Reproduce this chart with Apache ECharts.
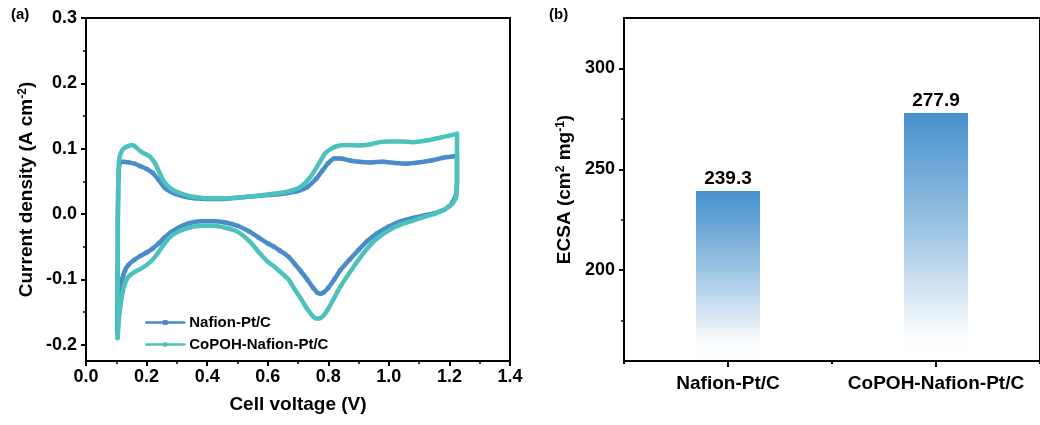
<!DOCTYPE html>
<html>
<head>
<meta charset="utf-8">
<script src="https://cdn.jsdelivr.net/npm/echarts@6/dist/echarts.min.js"></script>
<style>
  html, body { margin: 0; padding: 0; background: #fff; }
  #chart { width: 1040px; height: 425px; }
</style>
</head>
<body>
<div id="chart"></div>
<script>
// (a) Cyclic voltammetry: cell voltage (V) vs current density (A cm^-2)
const nafionVolt = [
  0.103, 0.103, 0.104, 0.104, 0.105, 0.105, 0.106, 0.107, 0.109, 0.112, 0.12, 0.14, 0.16, 0.18, 0.20, 0.22, 0.24, 0.26,
  0.28, 0.30, 0.33, 0.36, 0.40, 0.45, 0.50, 0.55, 0.60, 0.65, 0.70, 0.73, 0.76, 0.78, 0.80, 0.82, 0.84,
  0.87, 0.90, 0.94, 0.98, 1.02, 1.06, 1.10, 1.14, 1.18, 1.225,
  1.225, 1.225, 1.225, 1.225, 1.224, 1.222,
  1.21, 1.20, 1.18, 1.15, 1.12, 1.08, 1.04, 1.00, 0.96, 0.93, 0.90, 0.87, 0.84, 0.82, 0.80, 0.785,
  0.775, 0.765, 0.75, 0.73, 0.71, 0.69, 0.67, 0.64, 0.62, 0.60, 0.57, 0.54, 0.50, 0.46, 0.42, 0.38,
  0.34, 0.31, 0.28, 0.26, 0.24, 0.22, 0.20, 0.18, 0.16, 0.14, 0.13, 0.12, 0.115, 0.11, 0.107, 0.105, 0.103
];
const nafionCurr = [
  -0.180, -0.150, -0.120, -0.090, -0.050, -0.010, 0.030, 0.055, 0.070, 0.078, 0.080, 0.079, 0.077, 0.073, 0.069, 0.063, 0.052, 0.040,
  0.034, 0.030, 0.026, 0.024, 0.023, 0.023, 0.025, 0.027, 0.029, 0.031, 0.035, 0.041, 0.054, 0.066, 0.078, 0.085, 0.085,
  0.082, 0.080, 0.079, 0.080, 0.078, 0.077, 0.079, 0.082, 0.086, 0.089,
  0.080, 0.070, 0.060, 0.050, 0.040, 0.030,
  0.018, 0.012, 0.006, 0.001, -0.002, -0.006, -0.011, -0.019, -0.030, -0.041, -0.055, -0.070, -0.086, -0.100, -0.113, -0.120,
  -0.122, -0.121, -0.113, -0.100, -0.088, -0.077, -0.066, -0.056, -0.050, -0.045, -0.036, -0.027, -0.018, -0.013, -0.011, -0.011,
  -0.014, -0.020, -0.028, -0.036, -0.045, -0.053, -0.059, -0.064, -0.070, -0.078, -0.085, -0.099, -0.112, -0.130, -0.150, -0.165, -0.180
];
const copohVolt = [
  0.104, 0.104, 0.104, 0.105, 0.105, 0.105, 0.106, 0.107, 0.11, 0.12, 0.13, 0.14, 0.15, 0.16, 0.17, 0.18, 0.19, 0.20, 0.21, 0.22,
  0.23, 0.24, 0.25, 0.26, 0.28, 0.30, 0.33, 0.36, 0.40, 0.45, 0.50, 0.55, 0.60, 0.65, 0.68, 0.71, 0.74,
  0.77, 0.79, 0.81, 0.83, 0.86, 0.90, 0.93, 0.97, 1.00, 1.04, 1.08, 1.12, 1.16, 1.20, 1.225,
  1.225, 1.225, 1.225, 1.225, 1.225, 1.225, 1.224, 1.222,
  1.21, 1.20, 1.18, 1.15, 1.12, 1.08, 1.04, 1.00, 0.96, 0.93, 0.90, 0.87, 0.84, 0.82, 0.80, 0.785,
  0.77, 0.76, 0.75, 0.73, 0.71, 0.69, 0.67, 0.64, 0.62, 0.60, 0.57, 0.54, 0.50, 0.46, 0.42, 0.38,
  0.34, 0.31, 0.28, 0.26, 0.24, 0.22, 0.20, 0.18, 0.16, 0.14, 0.13, 0.12, 0.115, 0.11, 0.107, 0.105, 0.104
];
const copohCurr = [
  -0.190, -0.160, -0.125, -0.095, -0.060, -0.020, 0.020, 0.055, 0.085, 0.098, 0.102, 0.104, 0.1055, 0.104, 0.100, 0.096, 0.093, 0.091, 0.088, 0.083,
  0.076, 0.066, 0.056, 0.048, 0.039, 0.034, 0.029, 0.026, 0.024, 0.024, 0.025, 0.027, 0.030, 0.033, 0.036, 0.042, 0.056,
  0.078, 0.093, 0.100, 0.104, 0.1055, 0.105, 0.106, 0.110, 0.111, 0.111, 0.110, 0.112, 0.116, 0.120, 0.123,
  0.110, 0.100, 0.090, 0.075, 0.060, 0.045, 0.033, 0.025,
  0.016, 0.012, 0.006, 0.000, -0.004, -0.010, -0.016, -0.025, -0.038, -0.052, -0.070, -0.090, -0.111, -0.128, -0.145, -0.155,
  -0.160, -0.160, -0.157, -0.145, -0.130, -0.116, -0.101, -0.088, -0.080, -0.073, -0.058, -0.042, -0.027, -0.021, -0.018, -0.018,
  -0.021, -0.026, -0.034, -0.045, -0.058, -0.070, -0.078, -0.084, -0.089, -0.096, -0.105, -0.122, -0.137, -0.155, -0.172, -0.185, -0.190
];
const cvYTicks = [-0.2, -0.1, 0.0, 0.1, 0.2, 0.3];
const cvYMinorTicks = [-0.15, -0.05, 0.05, 0.15, 0.25];

// (b) Electrochemical surface area
const ecsaCategories = ['Nafion-Pt/C', 'CoPOH-Nafion-Pt/C'];
const ecsaValues = [239.3, 277.9];
const ecsaYTicks = [200, 250, 300];
const ecsaYMinorTicks = [175, 225, 275];

const FONT = '"Liberation Sans", Arial, sans-serif';
const BLUE = '#4a8bca';
const TEAL = '#4cc2bd';

const pairs = (xs, ys) => xs.map((x, i) => [x, ys[i]]);

const chart = echarts.init(document.getElementById('chart'), null, { renderer: 'canvas' });

const tickText = { color: '#000', fontFamily: FONT, fontWeight: 'bold', fontSize: 18 };
const richName = {
  n: { fontFamily: FONT, fontWeight: 'bold', fontSize: 19, color: '#000' },
  sup: { fontFamily: FONT, fontWeight: 'bold', fontSize: 12, verticalAlign: 'top', color: '#000' }
};
const nameText = { color: '#000', fontFamily: FONT, fontWeight: 'bold', fontSize: 19, rich: richName };

chart.setOption({
  animation: false,
  backgroundColor: '#fff',
  textStyle: { fontFamily: FONT },
  grid: [
    { left: 86, top: 18, width: 424, height: 343, show: true, borderColor: '#000', borderWidth: 2, backgroundColor: 'transparent' },
    { left: 624, top: 18, width: 424, height: 343, show: true, borderColor: '#000', borderWidth: 2, backgroundColor: 'transparent' }
  ],
  legend: {
    orient: 'vertical',
    left: 145,
    top: 315,
    padding: 0,
    itemWidth: 38,
    itemHeight: 6,
    itemGap: 7,
    lineStyle: { width: 2.5 },
    textStyle: { color: '#000', fontFamily: FONT, fontWeight: 'bold', fontSize: 15 },
    data: ['Nafion-Pt/C', 'CoPOH-Nafion-Pt/C']
  },
  graphic: [
    { type: 'text', left: 11, top: 7, style: { text: '(a)', font: 'bold 15px ' + FONT, fill: '#000' } },
    { type: 'text', left: 549, top: 7, style: { text: '(b)', font: 'bold 15px ' + FONT, fill: '#000' } }
  ],
  xAxis: [
    {
      gridIndex: 0, type: 'value', min: 0, max: 1.4, interval: 0.2,
      name: 'Cell voltage (V)', nameLocation: 'middle', nameGap: 34, nameTextStyle: nameText,
      axisLine: { show: true, onZero: false, lineStyle: { color: '#000', width: 2 } },
      axisTick: { show: true, inside: false, length: 5, lineStyle: { color: '#000', width: 2 } },
      minorTick: { show: true, splitNumber: 2, length: 3, lineStyle: { color: '#000', width: 1.5 } },
      axisLabel: { ...tickText, margin: 7, formatter: v => v.toFixed(1) },
      splitLine: { show: false }
    },
    {
      gridIndex: 1, type: 'category', data: ecsaCategories, position: 'bottom',
      axisLine: { show: true, onZero: false, lineStyle: { color: '#000', width: 2 } },
      axisTick: { show: true, alignWithLabel: true, length: 6, lineStyle: { color: '#000', width: 2 } },
      axisLabel: { ...tickText, fontSize: 19, margin: 13, interval: 0, hideOverlap: false },
      splitLine: { show: false }
    },
    {
      gridIndex: 1, type: 'category', data: ecsaCategories, position: 'bottom',
      axisLine: { show: false, onZero: false },
      axisTick: { show: true, length: 3, lineStyle: { color: '#000', width: 2 } },
      axisLabel: { show: false },
      splitLine: { show: false }
    }
  ],
  yAxis: [
    {
      gridIndex: 0, type: 'value', min: -0.225, max: 0.3,
      name: '{n|Current density (A cm}{sup|-2}{n|)}', nameLocation: 'middle', nameGap: 50,
      nameTextStyle: nameText,
      axisLine: { show: true, onZero: false, lineStyle: { color: '#000', width: 2 } },
      axisTick: { show: true, length: 5, customValues: cvYTicks, lineStyle: { color: '#000', width: 2 } },
      axisLabel: { ...tickText, margin: 9, customValues: cvYTicks, formatter: v => v.toFixed(1) },
      splitLine: { show: false }
    },
    {
      gridIndex: 0, type: 'value', min: -0.225, max: 0.3, position: 'left',
      axisLine: { show: false, onZero: false },
      axisTick: { show: true, length: 3, customValues: cvYMinorTicks, lineStyle: { color: '#000', width: 1.5 } },
      axisLabel: { show: false, customValues: cvYMinorTicks },
      splitLine: { show: false }
    },
    {
      gridIndex: 1, type: 'value', min: 155, max: 325,
      name: '{n|ECSA (cm}{sup|2}{n| mg}{sup|-1}{n|)}', nameLocation: 'middle', nameGap: 50,
      nameTextStyle: nameText,
      axisLine: { show: true, onZero: false, lineStyle: { color: '#000', width: 2 } },
      axisTick: { show: true, length: 5, customValues: ecsaYTicks, lineStyle: { color: '#000', width: 2 } },
      axisLabel: { ...tickText, margin: 9, customValues: ecsaYTicks },
      splitLine: { show: false }
    },
    {
      gridIndex: 1, type: 'value', min: 155, max: 325, position: 'left',
      axisLine: { show: false, onZero: false },
      axisTick: { show: true, length: 3, customValues: ecsaYMinorTicks, lineStyle: { color: '#000', width: 1.5 } },
      axisLabel: { show: false, customValues: ecsaYMinorTicks },
      splitLine: { show: false }
    }
  ],
  series: [
    {
      name: 'Nafion-Pt/C', type: 'line', xAxisIndex: 0, yAxisIndex: 0,
      data: pairs(nafionVolt, nafionCurr),
      smooth: 0.25, symbol: 'rect', symbolSize: 4, showSymbol: true,
      color: BLUE,
      itemStyle: { color: BLUE },
      lineStyle: { color: BLUE, width: 4.5, cap: 'round', join: 'round' },
      z: 3
    },
    {
      name: 'CoPOH-Nafion-Pt/C', type: 'line', xAxisIndex: 0, yAxisIndex: 0,
      data: pairs(copohVolt, copohCurr),
      smooth: 0.25, symbol: 'circle', symbolSize: 4, showSymbol: true,
      color: TEAL,
      itemStyle: { color: TEAL },
      lineStyle: { color: TEAL, width: 4.5, cap: 'round', join: 'round' },
      z: 4
    },
    {
      name: 'ECSA', type: 'bar', xAxisIndex: 1, yAxisIndex: 2,
      data: ecsaValues,
      barWidth: 64,
      itemStyle: {
        color: new echarts.graphic.LinearGradient(0, 0, 0, 1, [
          { offset: 0, color: 'rgba(70,144,203,1)' },
          { offset: 0.45, color: 'rgba(70,144,203,0.55)' },
          { offset: 0.9, color: 'rgba(70,144,203,0.02)' },
          { offset: 1, color: 'rgba(70,144,203,0)' }
        ])
      },
      label: {
        show: true, position: 'top', distance: 3,
        color: '#000', fontFamily: FONT, fontWeight: 'bold', fontSize: 19,
        formatter: p => p.value.toFixed(1)
      }
    }
  ]
});
</script>
</body>
</html>
